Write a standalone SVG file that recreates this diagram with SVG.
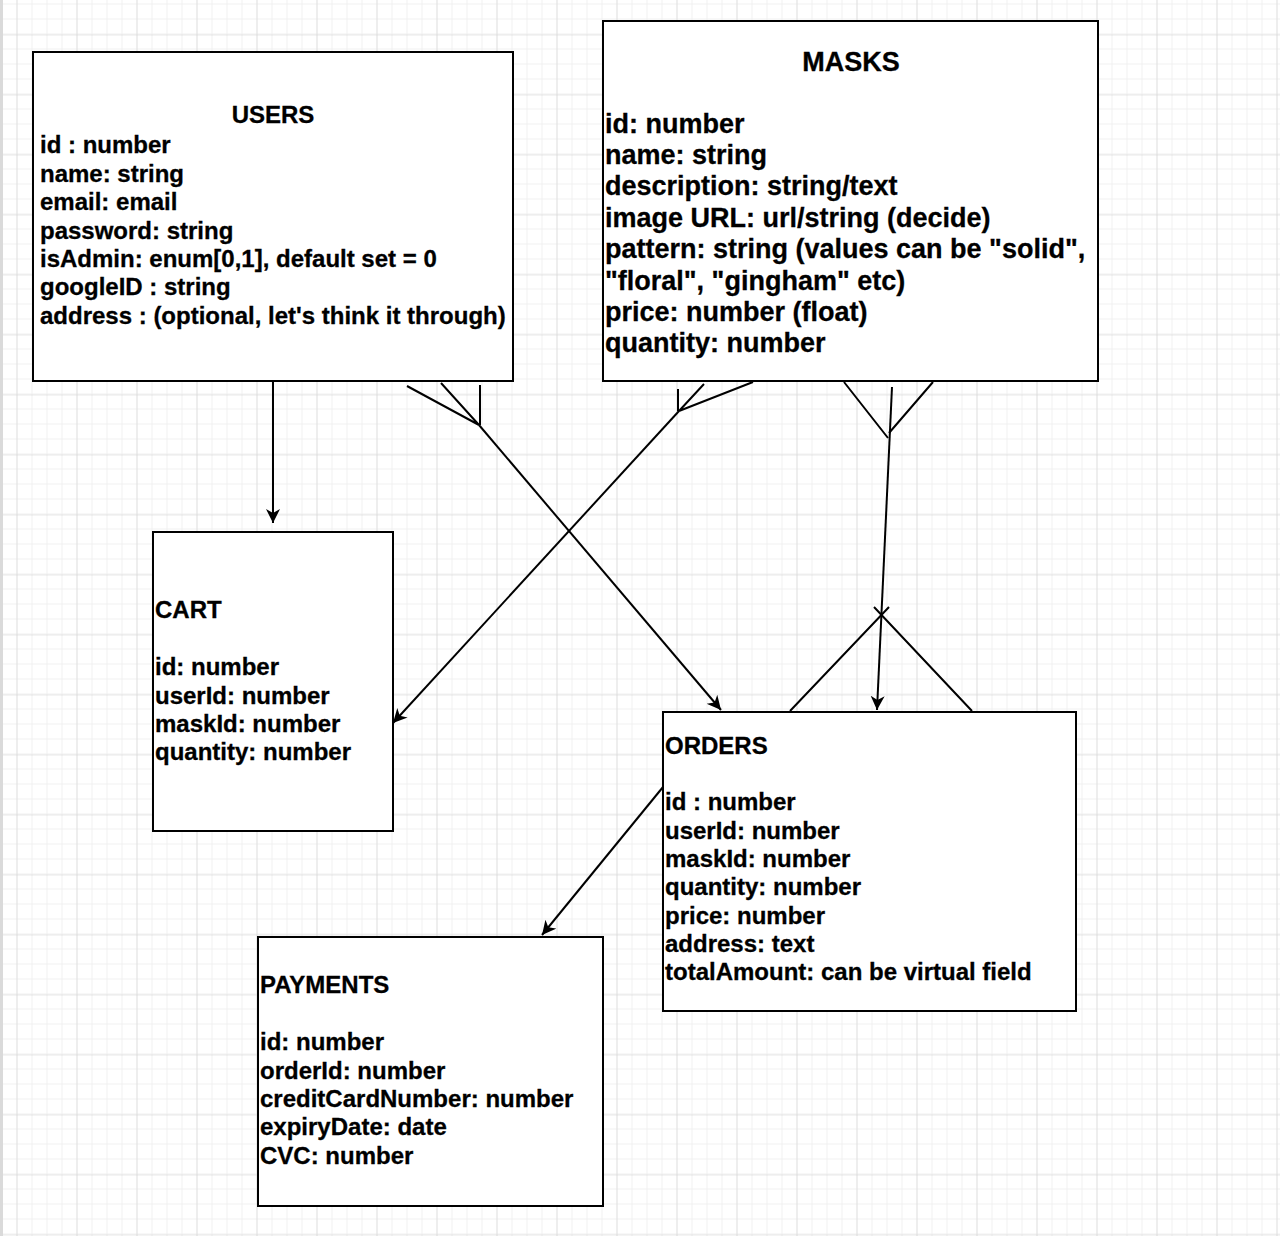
<svg xmlns="http://www.w3.org/2000/svg" width="1280" height="1236" viewBox="0 0 1280 1236">
  <defs>
    <!-- background grid: light 15px cells, darker every 60px -->
    <pattern id="minor" x="1.5" y="3.5" width="15" height="15" patternUnits="userSpaceOnUse">
      <path d="M0,0 H15 M0,0 V15" fill="none" stroke="#f0f0f0" stroke-width="2"/>
    </pattern>
    <pattern id="major" x="16.5" y="34.5" width="60" height="60" patternUnits="userSpaceOnUse">
      <path d="M0,0 H60 M0,0 V60" fill="none" stroke="#d2d2d2" stroke-width="1"/>
    </pattern>
    <marker id="arrow" markerUnits="userSpaceOnUse" markerWidth="16" markerHeight="16" refX="14" refY="7" orient="auto">
      <path d="M14,7 L0,0 L4,7 L0,14 Z" fill="#000"/>
    </marker>
    <style>
      .box { fill: #fff; stroke: #000; stroke-width: 2; }
      .t { font-family: "Liberation Sans", Arial, Helvetica, sans-serif; font-weight: bold; font-size: 24px; fill: #000; stroke: #000; stroke-width: 0.3; }
      .big { font-size: 27px; }
      .mid { text-anchor: middle; }
      .edge { fill: none; stroke: #000; stroke-width: 2; }
    </style>
  </defs>

  <rect width="1280" height="1236" fill="#fff"/>
  <rect width="1280" height="1236" fill="url(#minor)"/>
  <rect width="1280" height="1236" fill="url(#major)"/>
  <rect x="0" y="0" width="3" height="1236" fill="#dadada"/>

  <g id="users">
    <rect class="box" x="33" y="52" width="480" height="329"/>
    <text class="t mid" x="273" y="123">USERS</text>
    <text class="t">
      <tspan x="40" y="153">id : number</tspan>
      <tspan x="40" y="181.5">name: string</tspan>
      <tspan x="40" y="210">email: email</tspan>
      <tspan x="40" y="238.5">password: string</tspan>
      <tspan x="40" y="266.5">isAdmin: enum[0,1], default set = 0</tspan>
      <tspan x="40" y="295">googleID : string</tspan>
      <tspan x="40" y="323.5">address : (optional, let's think it through)</tspan>
    </text>
  </g>

  <g id="masks">
    <rect class="box" x="603" y="21" width="495" height="360"/>
    <text class="t big mid" x="851" y="70.5">MASKS</text>
    <text class="t big">
      <tspan x="605" y="132.5">id: number</tspan>
      <tspan x="605" y="164">name: string</tspan>
      <tspan x="605" y="195">description: string/text</tspan>
      <tspan x="605" y="226.5">image URL: url/string (decide)</tspan>
      <tspan x="605" y="258">pattern: string (values can be "solid",</tspan>
      <tspan x="605" y="289.5">"floral", "gingham" etc)</tspan>
      <tspan x="605" y="320.5">price: number (float)</tspan>
      <tspan x="605" y="351.5">quantity: number</tspan>
    </text>
  </g>

  <g id="cart">
    <rect class="box" x="153" y="532" width="240" height="299"/>
    <text class="t">
      <tspan x="155" y="617.5">CART</tspan>
      <tspan x="155" y="675">id: number</tspan>
      <tspan x="155" y="703.5">userId: number</tspan>
      <tspan x="155" y="731.5">maskId: number</tspan>
      <tspan x="155" y="760">quantity: number</tspan>
    </text>
  </g>

  <g id="orders">
    <rect class="box" x="663" y="712" width="413" height="299"/>
    <text class="t">
      <tspan x="665" y="753.5">ORDERS</tspan>
      <tspan x="665" y="810">id : number</tspan>
      <tspan x="665" y="838.5">userId: number</tspan>
      <tspan x="665" y="866.5">maskId: number</tspan>
      <tspan x="665" y="895">quantity: number</tspan>
      <tspan x="665" y="923.5">price: number</tspan>
      <tspan x="665" y="951.5">address: text</tspan>
      <tspan x="665" y="980">totalAmount: can be virtual field</tspan>
    </text>
  </g>

  <g id="payments">
    <rect class="box" x="258" y="937" width="345" height="269"/>
    <text class="t">
      <tspan x="260" y="992.5">PAYMENTS</tspan>
      <tspan x="260" y="1050">id: number</tspan>
      <tspan x="260" y="1078.5">orderId: number</tspan>
      <tspan x="260" y="1106.5">creditCardNumber: number</tspan>
      <tspan x="260" y="1135">expiryDate: date</tspan>
      <tspan x="260" y="1163.5">CVC: number</tspan>
    </text>
  </g>

  <g id="connectors">
    <!-- users to cart -->
    <line class="edge" x1="273" y1="381" x2="273" y2="523" marker-end="url(#arrow)"/>

    <!-- users to orders, crow's foot at users -->
    <path class="edge" d="M407,386 L479,425 M441,383 L479,425 M480,385 V425"/>
    <line class="edge" x1="479" y1="425" x2="721" y2="710" marker-end="url(#arrow)"/>

    <!-- masks to cart, crow's foot at masks -->
    <path class="edge" d="M753,382 L679,411 M704,384 L679,411 M678,389 V411"/>
    <line class="edge" x1="679" y1="411" x2="393" y2="723" marker-end="url(#arrow)"/>

    <!-- masks to orders, crow's foot at masks -->
    <path class="edge" d="M844,382 L888,438 M933,382 L889,433"/>
    <line class="edge" x1="892" y1="387" x2="877" y2="710" marker-end="url(#arrow)"/>

    <!-- crossed fork on top of orders -->
    <path class="edge" d="M790,711 L889,607 M972,711 L874,607"/>

    <!-- orders to payments -->
    <line class="edge" x1="663" y1="787" x2="542" y2="935" marker-end="url(#arrow)"/>
  </g>
</svg>
